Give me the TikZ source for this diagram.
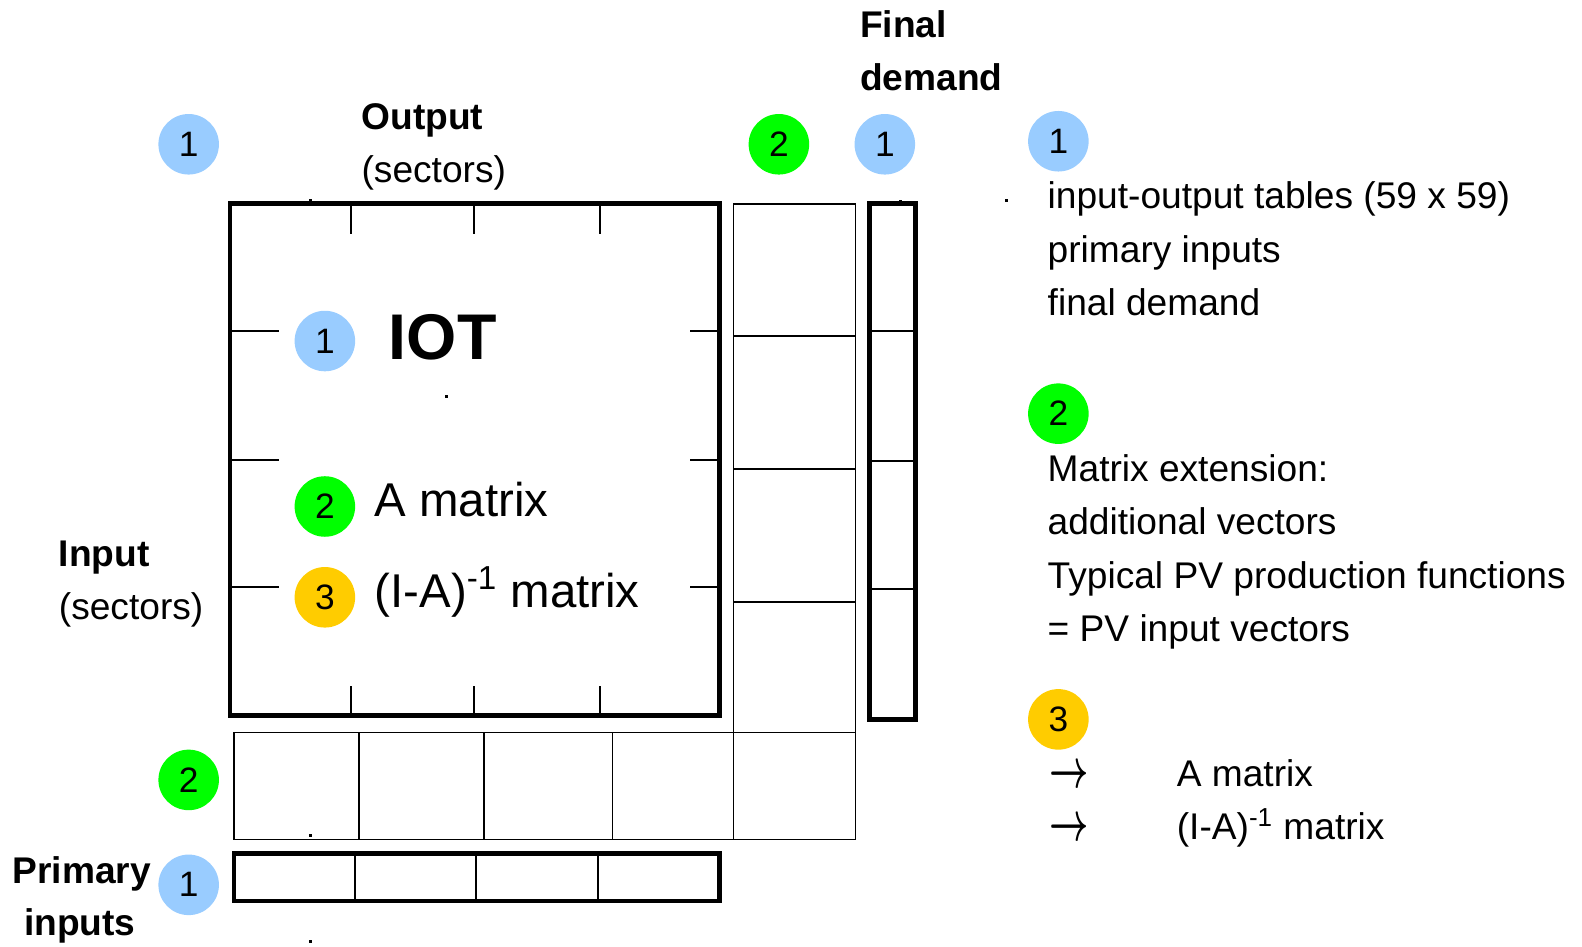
\documentclass[tikz,border=0pt]{standalone}
\usepackage{fontspec}
\setmainfont{Liberation Sans}
\usepackage{graphicx}
\usepackage{amsmath,bm}
\usepackage{tikz}
\usetikzlibrary{positioning}
\definecolor{nblue}{HTML}{99CCFF}
\definecolor{ngreen}{HTML}{00FF00}
\definecolor{nyellow}{HTML}{FFCC00}
\newcommand{\legarrow}{\scalebox{0.68}[1.1]{\fontsize{24}{24}\selectfont$\bm{\rightarrow}$}}
\tikzset{
  numc/.style={circle,minimum size=30pt,inner sep=0pt,font=\fontsize{17.5}{17.5}\selectfont},
  bluec/.style={numc,fill=nblue},
  greenc/.style={numc,fill=ngreen},
  yellowc/.style={numc,fill=nyellow},
  lbl/.style={anchor=base west,inner sep=0pt,font=\fontsize{18.4}{22}\selectfont},
  blbl/.style={lbl,font=\fontsize{18.4}{22}\selectfont\bfseries},
  thickbox/.style={line width=2.4pt},
  thinbox/.style={line width=0.9pt},
  tick/.style={line width=1pt},
}

\begin{document}
\begin{tikzpicture}[x=0.5pt,y=-0.5pt]
\useasboundingbox (0,0) rectangle (1568,938);
% IOT block with ticks
\draw[thickbox] (228,202) rectangle (713,709);
\foreach \x in {348,470,595} {
  \draw[tick] (\x,202) -- (\x,232);
  \draw[tick] (\x,680) -- (\x,709);
}
\foreach \y in {328,456,582} {
  \draw[tick] (228,\y) -- (277,\y);
  \draw[tick] (684,\y) -- (713,\y);
}
% extension vectors (column and row)
\draw[thinbox] (727,202) rectangle (848,832);
\foreach \y in {333,465,597,726} \draw[thinbox] (727,\y) -- (848,\y);
\draw[thinbox] (232,726) rectangle (848,832);
\foreach \x in {356,480,607,727} \draw[thinbox] (\x,726) -- (\x,832);
% final demand
\draw[thickbox] (862,202) rectangle (907,713);
\foreach \y in {328,457,584} \draw[line width=1.2pt] (862,\y) -- (907,\y);
% primary inputs
\draw[thickbox] (232,846) rectangle (713,893);
\foreach \x in {352,472,593} \draw[line width=1.1pt] (\x,846) -- (\x,893);
% stray dots
\foreach \p in {(308,199),(443,393),(998,199),(893,200),(308,828),(308,933)}
  \fill \p ++(-1.5,-1.5) rectangle ++(3,3);

% numbered markers
\node[bluec] (c1out) at (187,143) {1};
\node[greenc] (c2ext) at (772,143) {2};
\node[bluec] (c1fd) at (877,143) {1};
\node[bluec] (c1iot) at (322,338) {1};
\node[greenc] (c2a) at (322,502) {2};
\node[yellowc] (c3inv) at (322,592) {3};
\node[greenc] (c2row) at (187,773) {2};
\node[bluec] (c1pi) at (187,877) {1};
\node[bluec] (c1leg) at (1049,140) {1};
\node[greenc] (c2leg) at (1049,410) {2};
\node[yellowc] (c3leg) at (1049,713) {3};

% axis labels
\node[blbl] (output) at (358,128) {Output};
\node[lbl] (outsec) at (358,181) {(sectors)};
\node[blbl] (final) at (852,37) {Final};
\node[blbl] (demand) at (852,90) {demand};
\node[blbl] (input) at (58,561) {Input};
\node[lbl] (insec) at (58,614) {(sectors)};
\node[blbl,anchor=base] (primary) at (81,876) {Primary};
\node[blbl,anchor=base] (inputs) at (79,927) {inputs};

% inside the IOT block
\node[lbl,font=\fontsize{32}{36}\selectfont\bfseries] (iot) at (385,356) {IOT};
\node[lbl,font=\fontsize{23.5}{28}\selectfont] (amat) at (371,512) {A matrix};
\node[lbl,font=\fontsize{23.5}{28}\selectfont] (invmat) at (371,602) {(I-A)\textsuperscript{-1} matrix};

% legend
\node[lbl] (l1a) at (1038,207) {input-output tables (59 x 59)};
\node[lbl] (l1b) at (1038,260) {primary inputs};
\node[lbl] (l1c) at (1038,313) {final demand};
\node[lbl] (l2a) at (1038,477) {Matrix extension:};
\node[lbl] (l2b) at (1038,530) {additional vectors};
\node[lbl] (l2c) at (1038,583) {Typical PV production functions};
\node[lbl] (l2d) at (1038,636) {= PV input vectors};
\node[lbl] (arr1) at (1040,781) {\legarrow};
\node[lbl] (l3a) at (1166,780) {A matrix};
\node[lbl] (arr2) at (1040,833) {\legarrow};
\node[lbl] (l3b) at (1166,832) {(I-A)\textsuperscript{-1} matrix};
\end{tikzpicture}
\end{document}
